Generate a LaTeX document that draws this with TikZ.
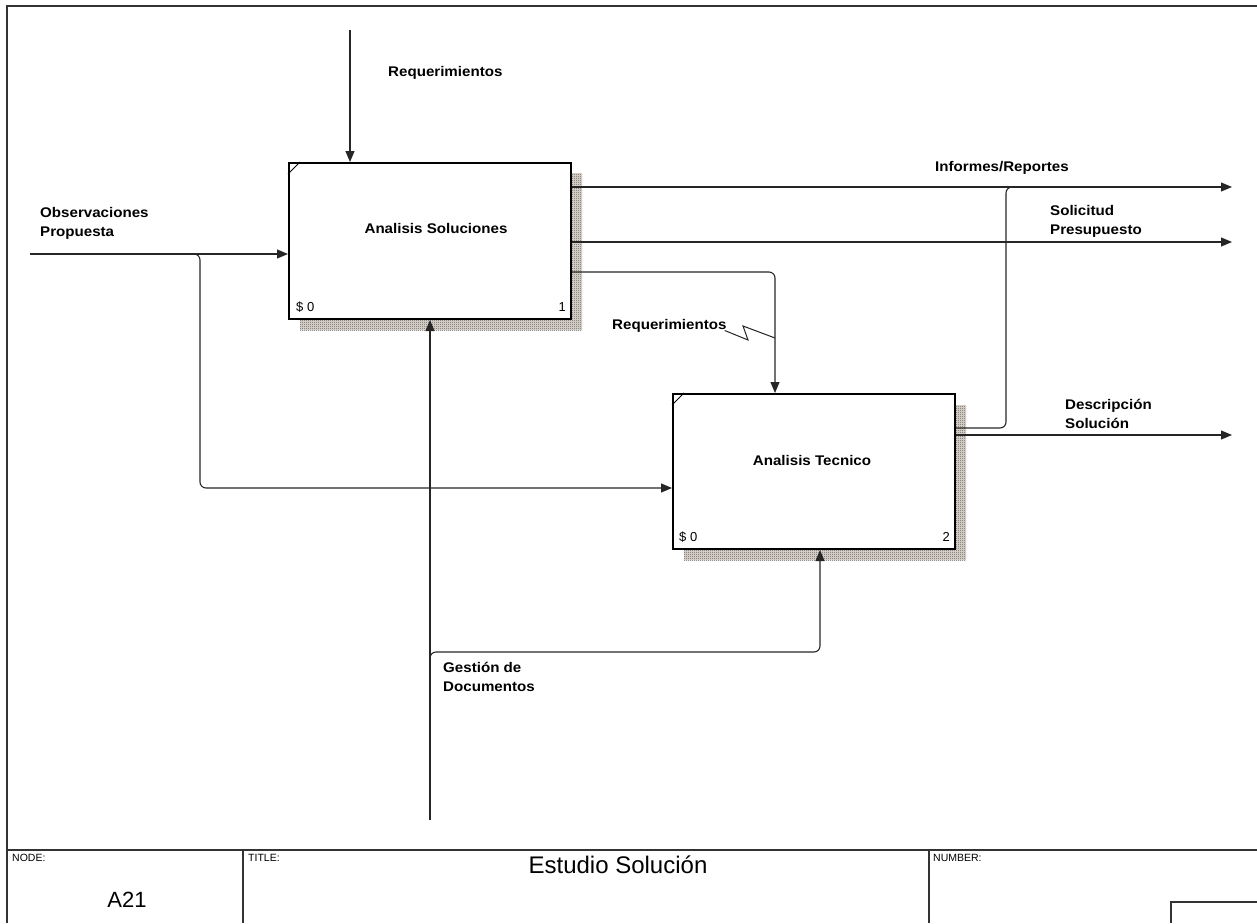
\documentclass[tikz,border=0pt]{standalone}
\usepackage{fontspec}
\setmainfont{Liberation Sans}
\newfontfamily\lblfont[FakeStretch=1.08]{Liberation Sans}
\usetikzlibrary{arrows.meta,patterns}
% fine checker dither used for the box shadows
\pgfdeclarepatternformonly{checker}{\pgfpointorigin}{\pgfpoint{2pt}{2pt}}{\pgfpoint{2pt}{2pt}}{%
  \pgfpathrectangle{\pgfpointorigin}{\pgfpoint{1pt}{1pt}}%
  \pgfpathrectangle{\pgfpoint{1pt}{1pt}}{\pgfpoint{1pt}{1pt}}%
  \pgfusepath{fill}}
\begin{document}
\begin{tikzpicture}[x=1pt,y=-1pt,
  conn/.style={draw=black!85,line width=1.1pt},
  arr/.style={conn,-{Triangle[length=11pt,width=9pt]}},
  activity/.style={draw=black,line width=2pt,fill=white,inner sep=0pt,
    minimum width=282pt,minimum height=156pt,anchor=north west},
  shade/.style={fill=black!38!brown!20!white,postaction={pattern=checker,pattern color=black!65}},
  lbl/.style={font=\lblfont\bfseries\fontsize{14}{19}\selectfont,
    align=left,anchor=north west,inner sep=0pt},
  boxtext/.style={font=\lblfont\bfseries\fontsize{14}{17}\selectfont,inner sep=0pt},
  corner/.style={font=\fontsize{13}{15}\selectfont,inner sep=0pt},
  small/.style={font=\fontsize{10.5}{12}\selectfont,inner sep=0pt,anchor=north west},
  frame/.style={draw=black!80,line width=1.2pt}]
\useasboundingbox (0,0) rectangle (1257,923);

% drawing frame and title block
\draw[frame] (7,923) -- (7,6) -- (1257,6);
\draw[frame] (7,850) -- (1257,850);
\draw[frame] (243,850) -- (243,923);
\draw[frame] (929,850) -- (929,923);
\draw[frame] (1171,923) -- (1171,902) -- (1257,902);
\node[small] (tNode) at (12,854) {NODE:};
\node[small] (tTitle) at (248,854) {TITLE:};
\node[small] (tNumber) at (933,854) {NUMBER:};
\node[font=\fontsize{22}{26}\selectfont,inner sep=0pt] (tA21) at (127,900) {A21};
\node[font=\fontsize{24}{28}\selectfont,inner sep=0pt] (tName) at (618,865) {Estudio Solución};

% shadows behind the activity boxes
\path[shade] (300,173) rectangle (582,330);
\path[shade] (684,405) rectangle (966,560);

% activity boxes
\node[activity] (b1) at (288,162) {};
\node[activity,minimum height=155pt] (b2) at (672,393) {};
\draw[line width=1pt] ([yshift=-12pt]b1.north west) -- ([xshift=12pt]b1.north west);
\draw[line width=1pt] ([yshift=-12pt]b2.north west) -- ([xshift=12pt]b2.north west);
\node[boxtext] (b1t) at (436,228) {Analisis Soluciones};
\node[boxtext] (b2t) at (812,460) {Analisis Tecnico};
\node[corner,anchor=base west] (b1c) at (296,311) {\$ 0};
\node[corner,anchor=base east] (b1n) at (566,311) {1};
\node[corner,anchor=base west] (b2c) at (679,541) {\$ 0};
\node[corner,anchor=base east] (b2n) at (950,541) {2};

% free ends of the connectors
\coordinate (reqTop) at (350,30);
\coordinate (obsIn) at (30,254);
\coordinate (obsSplit) at (192,254);
\coordinate (infOut) at (1232,187);
\coordinate (solOut) at (1232,242);
\coordinate (desOut) at (1232,435);
\coordinate (gesIn) at (430,820);
\coordinate (gesSplit) at (430,662);

% controls
\draw[arr] (reqTop) -- (reqTop |- b1.north);
\draw[arr] (gesIn) -- (gesIn |- b1.south);
\draw[arr,rounded corners=6pt] (gesSplit) -- (430,652) -- (820,652) -- (820,548 |- b2.south);

% inputs
\draw[arr] (obsIn) -- (obsIn -| b1.west);
\draw[arr,rounded corners=6pt] (obsSplit) -- (200,254) -- (200,488) -- (b2.west |- 0,488);

% outputs of the first activity
\draw[arr] (b1.east |- infOut) -- (infOut);
\draw[arr] (b1.east |- solOut) -- (solOut);
\draw[arr,rounded corners=6pt] (b1.east |- 0,272) -- (775,272) -- (775,300 |- b2.north);

% outputs of the second activity
\draw[arr] (b2.east |- desOut) -- (desOut);
\draw[conn,rounded corners=6pt] (b2.east |- 0,428) -- (1006,428) -- (1006,187) -- (1016,187);

% labels
\node[lbl] (lReqTop) at (388,66) {Requerimientos};
\node[lbl] (lObs) at (40,207) {Observaciones\\Propuesta};
\node[lbl] (lInf) at (935,161) {Informes/Reportes};
\node[lbl] (lSol) at (1050,205) {Solicitud\\Presupuesto};
\node[lbl] (lDes) at (1065,399) {Descripción\\Solución};
\node[lbl] (lReqMid) at (612,319) {Requerimientos};
\node[lbl] (lGes) at (443,662) {Gestión de\\Documentos};
\draw[conn,line width=1pt] (lReqMid.south east) ++(-2pt,2pt) coordinate (zz)
  -- (748,340) -- (743,326) -- (775,338);
\end{tikzpicture}
\end{document}
